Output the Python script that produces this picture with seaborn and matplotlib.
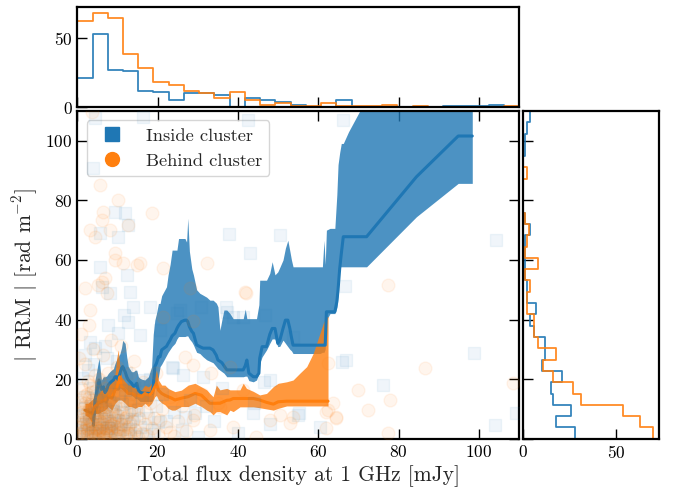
import numpy as np
import pandas as pd
import matplotlib
matplotlib.use("Agg")
import matplotlib.pyplot as plt
import seaborn as sns
from matplotlib.lines import Line2D

BLUE = "#1f77b4"
ORANGE = "#ff7f0e"

# ---------------------------------------------------------------------------
# Individual sources: (flux density at 1 GHz [mJy], |RRM| [rad m^-2])
# ---------------------------------------------------------------------------
inside_points = [
    (4.4, 107.6), (16.3, 108.0), (42.5, 107.0), (66.2, 107.0), (3.9, 90.8),
    (9.4, 76.0), (11.9, 75.7), (12.6, 71.6), (5.6, 69.0), (10.1, 67.7),
    (37.8, 68.7), (50.4, 68.4), (43.1, 62.2), (104.2, 66.6), (5.6, 57.6),
    (12.4, 54.9), (6.1, 50.9), (8.1, 48.9), (13.1, 49.2), (66.6, 51.2),
    (13.9, 44.3), (18.1, 44.3), (11.7, 41.5), (7.7, 38.2), (12.7, 39.3),
    (15.6, 34.8), (10.2, 35.4), (3.2, 32.6), (4.4, 30.3), (7.3, 27.0),
    (2.7, 23.1), (1.1, 20.3), (24.7, 42.1), (37.2, 42.6), (38.8, 40.9),
    (41.2, 40.9), (46.7, 41.5), (37.0, 44.1), (30.9, 44.1), (25.5, 43.2),
    (20.6, 36.5), (53.7, 34.2), (23.5, 24.2), (23.9, 23.6), (26.4, 21.4),
    (31.2, 20.8), (46.4, 19.1), (47.9, 19.7), (16.4, 19.7), (11.9, 16.3),
    (65.8, 25.8), (67.0, 26.4), (76.1, 18.0), (98.8, 28.9), (55.2, 8.5),
    (55.0, 8.0), (60.4, 4.0), (43.8, 8.5), (103.9, 4.6), (109.3, 8.5),
    (26.8, 7.4), (29.3, 8.5), (20.1, 5.7), (7.7, 3.5), (4.4, 3.5),
    (1.0, 3.0), (1.5, 8.0), (2.0, 14.0), (2.5, 1.0), (3.0, 6.0),
    (3.5, 11.0), (4.0, 17.0), (4.5, 2.5), (5.0, 8.5), (5.5, 4.0),
    (6.0, 13.0), (6.5, 1.5), (7.0, 10.0), (7.5, 6.0), (8.0, 19.0),
    (8.5, 3.0), (9.0, 12.0), (9.5, 7.5), (10.0, 1.0), (10.5, 15.0),
    (11.0, 5.0), (11.5, 9.0), (12.0, 22.0), (12.5, 2.0), (13.0, 12.5),
    (13.5, 6.5), (14.0, 17.0), (14.5, 0.8), (15.0, 9.5), (15.5, 4.0),
    (16.0, 14.0), (17.0, 1.5), (17.5, 7.0), (18.0, 20.0), (19.0, 3.0),
    (19.5, 11.0), (21.0, 15.0), (22.0, 6.0), (24.0, 9.0), (26.0, 3.0),
    (28.0, 13.0), (30.0, 0.5), (32.0, 11.0), (34.0, 6.0), (36.0, 17.0),
    (40.0, 2.0), (44.0, 12.0), (48.0, 5.0), (2.2, 5.0), (3.8, 2.0),
    (5.8, 6.5), (7.8, 3.5), (4.2, 25.0), (6.8, 31.0), (1.8, 28.0),
    (9.8, 26.0),
    (0.8, 1.5), (1.2, 5.5), (1.9, 10.2), (2.4, 3.6), (2.9, 8.4),
    (3.3, 1.2), (3.6, 5.0), (4.1, 9.0), (4.6, 13.5), (5.2, 1.8),
    (5.6, 10.8), (6.2, 4.8), (6.7, 7.6), (7.2, 2.6), (7.9, 12.4),
    (8.3, 5.2), (8.9, 9.4), (9.3, 2.0), (9.9, 6.2), (10.6, 3.4),
    (11.2, 11.6), (12.2, 6.0), (13.2, 3.2), (14.2, 8.2),
]

behind_points = [
    (3.7, 109.6), (5.6, 85.1), (10.1, 80.0), (6.4, 76.0), (18.6, 75.7),
    (6.1, 73.3), (12.6, 71.6), (3.2, 70.0), (4.4, 67.7), (8.1, 70.0),
    (9.4, 62.3), (9.4, 59.9), (11.4, 58.9), (14.8, 58.3), (21.3, 57.2),
    (32.3, 58.9), (1.9, 50.5), (6.1, 52.5), (6.9, 53.9), (15.6, 58.9),
    (41.7, 49.2), (28.0, 50.6), (28.7, 39.6), (26.8, 27.5), (28.9, 24.7),
    (33.4, 21.9), (38.0, 24.2), (62.4, 25.3), (62.0, 9.1), (64.5, 7.0),
    (77.4, 51.6), (86.5, 23.6), (69.9, 16.3), (77.8, 13.0), (72.3, 9.6),
    (63.7, 11.9), (62.4, 9.6), (64.5, 7.4), (62.0, 3.5), (77.4, 1.8),
    (52.9, 5.2), (50.4, 8.0), (108.5, 18.6), (5.2, 51.6), (7.3, 48.8),
    (3.2, 43.2), (42.1, 48.8), (21.4, 40.9), (41.3, 16.3), (47.9, 6.3),
    (53.7, 7.4), (35.5, 10.7), (38.8, 4.0), (44.6, 0.7), (23.1, 2.3),
    (20.6, 6.3), (28.9, 6.3),
    (0.5, 2.0), (1.0, 5.0), (1.2, 9.0), (1.5, 1.0), (1.8, 12.0),
    (2.0, 3.0), (2.2, 7.0), (2.5, 15.0), (2.6, 0.5), (2.8, 10.0),
    (3.0, 4.0), (3.1, 18.0), (3.3, 6.0), (3.5, 1.5), (3.6, 13.0),
    (3.8, 8.0), (4.0, 2.5), (4.1, 11.0), (4.3, 5.0), (4.5, 16.0),
    (4.6, 0.8), (4.8, 7.0), (5.0, 3.5), (5.1, 9.5), (5.3, 20.0),
    (5.5, 1.2), (5.6, 6.0), (5.8, 12.5), (6.0, 4.0), (6.1, 14.0),
    (6.3, 2.0), (6.5, 8.5), (6.7, 0.6), (6.9, 17.0), (7.0, 5.5),
    (7.2, 10.5), (7.4, 3.0), (7.6, 22.0), (7.8, 7.5), (8.0, 1.0),
    (8.2, 13.0), (8.4, 4.5), (8.6, 9.0), (8.8, 2.2), (9.0, 16.0),
    (9.2, 6.5), (9.4, 11.0), (9.6, 0.4), (9.8, 3.8), (10.0, 24.0),
    (10.2, 8.0), (10.4, 1.8), (10.6, 14.5), (10.8, 5.0), (11.0, 10.0),
    (11.3, 2.8), (11.5, 18.0), (11.8, 6.8), (12.0, 0.9), (12.3, 12.0),
    (12.6, 4.0), (12.9, 8.8), (13.2, 1.5), (13.5, 15.0), (13.8, 6.0),
    (14.1, 26.0), (14.4, 3.0), (14.7, 10.0), (15.0, 0.5), (15.3, 7.0),
    (15.6, 13.0), (16.0, 2.0), (16.4, 19.0), (16.8, 5.0), (17.2, 9.0),
    (17.6, 1.0), (18.0, 12.0), (18.5, 3.5), (19.0, 7.0), (19.5, 22.0),
    (20.0, 1.5), (21.0, 10.0), (22.0, 4.0), (23.0, 14.0), (24.0, 0.8),
    (25.0, 6.0), (26.0, 11.0), (27.0, 2.5), (29.0, 8.0), (31.0, 15.0),
    (33.0, 3.0), (35.0, 12.0), (2.0, 25.0), (4.0, 30.0), (1.0, 35.0),
    (6.5, 28.0), (8.5, 33.0), (3.0, 38.0), (11.0, 31.0), (13.0, 22.0),
    (0.8, 17.0), (0.5, 27.0), (2.4, 4.5), (3.9, 1.0), (5.4, 2.8),
    (7.1, 1.9), (1.4, 6.5), (4.7, 12.0), (6.2, 9.8), (9.1, 4.2),
    (2.9, 13.7), (8.3, 16.5),
    (0.3, 0.8), (0.7, 4.0), (1.1, 7.5), (1.3, 2.5), (1.7, 10.5),
    (1.9, 5.5), (2.1, 1.2), (2.3, 8.8), (2.7, 3.2), (2.9, 6.2),
    (3.2, 11.5), (3.4, 2.2), (3.7, 4.8), (3.9, 9.8), (4.2, 0.3),
    (4.4, 7.7), (4.7, 3.4), (4.9, 5.6), (5.2, 1.0), (5.4, 8.2),
    (5.7, 3.0), (5.9, 10.6), (6.2, 5.2), (6.4, 0.9), (6.6, 6.8),
    (6.8, 3.6), (7.1, 8.0), (7.3, 1.4), (7.5, 12.2), (7.7, 4.4),
    (8.1, 6.0), (8.3, 2.6), (8.7, 11.0), (8.9, 5.0), (9.3, 1.6),
    (9.7, 8.4), (10.1, 3.2), (10.5, 6.4), (10.9, 12.8), (11.2, 1.2),
    (11.6, 4.6), (12.1, 7.2), (12.5, 2.0), (13.0, 5.4), (13.4, 9.6),
    (14.0, 1.8), (1.6, 14.5), (2.6, 19.5), (4.4, 21.5), (5.9, 18.2),
    (0.9, 12.4), (3.4, 15.8),
]

# ---------------------------------------------------------------------------
# Running median of |RRM| versus flux density, with its uncertainty band
# ---------------------------------------------------------------------------
inside_flux = [4.0, 4.4, 4.8, 5.4, 6.0, 6.5, 6.9, 7.3, 7.7, 8.1, 8.5, 9.0, 9.4, 9.8,
               10.2, 10.6, 11.0, 11.3, 11.9, 12.3, 12.7, 13.5, 14.0, 14.4, 14.8, 15.2,
               15.6, 16.0, 16.8, 17.7, 18.5, 18.9, 19.3, 19.7, 20.2, 20.6, 21.0, 22.2,
               22.6, 23.1, 23.6, 24.3, 24.8, 25.2, 25.9, 26.8, 27.2, 27.5, 27.9, 28.5,
               28.9, 29.7, 30.5, 31.3, 32.2, 33.0, 33.8, 34.6, 35.0, 35.5, 36.0, 36.5,
               37.2, 38.0, 38.8, 40.5, 41.3, 41.8, 42.2, 42.7, 43.8, 44.6, 45.2, 45.4,
               46.0, 47.1, 47.9, 48.5, 49.2, 49.9, 50.4, 51.2, 51.8, 52.4, 52.9, 53.3,
               53.7, 55.4, 57.1, 59.0, 60.4, 61.0, 61.4, 61.7, 62.0, 62.9, 64.1, 64.6,
               64.9, 65.3, 65.7, 66.2, 67.5, 70.3, 72.0, 84.4, 94.8, 98.3]
inside_med = [4.5, 13.0, 15.2, 19.7, 16.5, 17.4, 15.5, 16.3, 18.0, 18.6, 19.2, 19.7, 20.8, 20.8,
              19.7, 21.9, 23.6, 24.2, 22.5, 20.8, 19.7, 18.6, 17.6, 17.9, 18.6, 16.3,
              15.7, 15.4, 15.2, 15.2, 15.2, 17.5, 24.2, 25.3, 27.5, 27.5, 29.8, 31.0,
              32.0, 33.1, 34.5, 35.4, 37.0, 38.0, 39.3, 39.8, 39.8, 39.3, 37.6, 36.0,
              35.4, 31.5, 30.9, 30.4, 30.4, 30.4, 29.8, 28.0, 26.4, 26.0, 25.5, 24.5,
              23.1, 23.1, 23.1, 23.1, 23.1, 24.5, 26.4, 22.0, 20.8, 20.8, 22.0, 27.0,
              30.9, 30.9, 35.0, 37.0, 37.0, 32.0, 33.0, 37.0, 39.8, 39.8, 37.0, 34.0,
              31.4, 31.4, 31.4, 31.4, 31.4, 31.4, 31.4, 31.4, 42.6, 42.6, 42.6, 46.0,
              50.0, 57.0, 62.0, 67.8, 67.8, 67.8, 67.8, 87.9, 101.6, 101.6]
inside_lo = [2.5, 8.0, 9.0, 12.0, 12.0, 12.5, 12.0, 12.0, 13.2, 14.0, 15.0, 15.5, 16.3, 16.3,
             16.3, 17.0, 17.4, 17.4, 17.0, 16.3, 15.2, 14.6, 14.1, 13.5, 13.5, 13.0,
             12.5, 12.5, 12.5, 12.5, 12.5, 13.5, 17.4, 18.5, 20.8, 24.2, 25.0, 28.0,
             29.0, 30.0, 31.0, 32.0, 33.5, 34.3, 34.3, 34.3, 34.5, 34.5, 33.5, 32.5,
             31.5, 29.0, 28.6, 27.5, 26.5, 26.0, 25.5, 24.2, 23.5, 23.0, 22.5, 22.0,
             20.8, 20.8, 20.8, 20.8, 20.8, 21.0, 21.0, 19.5, 19.1, 19.7, 22.0, 25.3,
             27.5, 29.8, 32.0, 33.5, 33.5, 30.9, 31.0, 33.1, 32.0, 30.9, 30.0, 29.5,
             28.6, 28.6, 28.6, 28.6, 28.6, 29.0, 29.0, 30.0, 39.8, 42.0, 42.0, 44.0,
             48.0, 57.7, 57.7, 57.7, 57.7, 57.7, 57.7, 74.5, 85.7, 85.7]
inside_hi = [11.0, 19.7, 22.5, 27.0, 19.7, 20.8, 20.8, 21.0, 21.9, 22.5, 23.0, 23.5, 25.3, 26.5,
             27.5, 28.5, 30.5, 33.0, 32.0, 27.5, 24.2, 22.5, 22.5, 23.0, 23.0, 20.8,
             20.3, 20.0, 19.7, 20.8, 24.2, 35.0, 39.8, 42.0, 45.4, 45.4, 48.0, 51.0,
             55.0, 58.5, 63.3, 63.3, 63.3, 67.2, 67.2, 67.2, 66.0, 74.0, 62.9, 57.0,
             55.0, 50.0, 48.8, 48.2, 47.5, 46.5, 46.5, 45.5, 44.3, 36.4, 40.0, 43.2,
             43.2, 42.0, 40.3, 40.3, 40.3, 43.5, 40.3, 40.3, 40.3, 40.3, 45.0, 53.2,
             53.2, 53.2, 55.5, 59.4, 55.0, 56.0, 57.5, 60.0, 64.0, 66.6, 63.0, 60.0,
             57.7, 57.7, 57.7, 57.7, 57.7, 57.7, 66.6, 58.5, 70.0, 70.6, 70.6, 82.0,
             92.0, 96.0, 99.1, 99.1, 103.0, 110.0, 120.0, 120.0, 120.0, 120.0]

behind_flux = [1.9, 2.7, 3.6, 4.4, 5.2, 6.1, 6.9, 7.7, 8.6, 9.4, 9.8, 10.2, 10.6, 11.0,
               11.9, 12.7, 13.5, 14.4, 15.2, 16.0, 16.8, 17.7, 18.5, 19.3, 19.7, 20.2,
               21.0, 21.8, 22.6, 23.5, 24.3, 25.9, 27.6, 29.3, 30.9, 32.2, 33.0, 33.8,
               34.6, 35.5, 37.2, 38.0, 38.8, 40.5, 41.3, 42.1, 43.8, 45.4, 47.1, 48.8,
               50.0, 52.1, 53.7, 55.4, 57.1, 58.7, 60.4, 61.2, 62.0, 62.4]
behind_med = [9.6, 9.1, 8.5, 10.8, 11.9, 12.5, 13.0, 14.1, 13.6, 16.3, 17.4, 18.6, 20.8, 17.4,
              16.3, 15.2, 15.2, 14.6, 14.6, 14.1, 15.2, 14.6, 15.2, 17.5, 18.6, 16.3,
              15.2, 14.6, 14.1, 13.6, 13.0, 13.6, 14.1, 15.2, 14.6, 12.9, 11.9, 11.9,
              11.9, 11.9, 12.9, 13.0, 13.5, 13.5, 13.5, 13.5, 13.5, 13.0, 12.2, 11.6,
              12.4, 12.6, 12.6, 12.6, 12.6, 12.6, 12.6, 12.6, 12.6, 12.6]
behind_lo = [7.9, 7.4, 5.7, 8.5, 8.5, 9.1, 9.6, 10.8, 9.6, 11.9, 12.5, 13.0, 13.0, 13.0,
             11.9, 10.8, 10.8, 10.2, 10.8, 10.8, 11.9, 10.8, 11.9, 14.1, 14.5, 13.0,
             12.0, 11.4, 10.2, 9.6, 9.6, 10.8, 10.8, 11.9, 10.8, 9.6, 9.1, 8.0,
             9.1, 9.1, 8.0, 9.6, 9.1, 10.7, 10.7, 10.7, 10.7, 10.4, 10.0, 9.6,
             10.2, 11.0, 11.0, 11.0, 11.0, 11.0, 11.0, 11.0, 11.0, 11.0]
behind_hi = [11.9, 11.9, 13.0, 14.1, 15.2, 16.3, 17.4, 18.6, 19.7, 21.9, 27.0, 29.8, 24.2, 20.8,
             19.1, 18.0, 18.0, 16.9, 16.9, 16.3, 18.0, 17.4, 18.6, 20.8, 23.0, 19.7,
             18.0, 18.0, 16.9, 16.3, 15.8, 16.3, 18.0, 18.6, 17.4, 16.4, 15.2, 14.1,
             18.0, 16.4, 16.9, 16.4, 16.4, 16.4, 18.6, 16.9, 15.9, 14.7, 15.2, 17.5,
             18.6, 19.1, 19.7, 22.0, 24.2, 28.6, 35.4, 38.7, 41.0, 41.0]

# ---------------------------------------------------------------------------
# Marginal histograms (counts per bin, 29 bins over 0-110)
# ---------------------------------------------------------------------------
bin_edges = [float(v) for v in np.linspace(0, 110, 30)]
flux_counts_inside = [21, 53, 27, 26, 12, 11, 5, 10, 10, 9, 0, 7, 5, 4, 2,
                      0, 0, 5, 0, 0, 0, 0, 0, 0, 1, 1, 1, 2, 0]
flux_counts_behind = [62, 68, 64, 38, 28, 18, 16, 12, 10, 7, 11, 5, 2, 3, 1,
                      1, 3, 1, 1, 1, 2, 0, 1, 0, 0, 0, 0, 0, 1]
rrm_counts_inside = [28, 18, 26, 16, 15, 21, 10, 12, 12, 6, 4, 7, 2, 2, 1,
                     1, 1, 1, 4, 1, 0, 0, 0, 0, 0, 1, 1, 2, 4]
rrm_counts_behind = [70, 63, 54, 31, 27, 16, 11, 18, 8, 6, 6, 2, 2, 4, 1,
                     8, 1, 2, 3, 1, 0, 0, 0, 2, 0, 0, 0, 0, 0]

# ---------------------------------------------------------------------------
sns.set_style("ticks")
plt.rcParams.update({
    "font.family": ["cmr10"],
    "mathtext.fontset": "cm",
    "axes.formatter.use_mathtext": True,
    "axes.linewidth": 1.6,
    "axes.edgecolor": "black",
    "xtick.direction": "in",
    "ytick.direction": "in",
    "xtick.major.size": 7,
    "ytick.major.size": 7,
    "xtick.major.width": 1.0,
    "ytick.major.width": 1.0,
    "xtick.labelsize": 12.5,
    "ytick.labelsize": 12.5,
    "xtick.color": "black",
    "ytick.color": "black",
})

fig = plt.figure(figsize=(6.75, 4.95), dpi=100)
ax = fig.add_axes([0.1145, 0.1137, 0.6548, 0.6621])
ax_top = fig.add_axes([0.1145, 0.7832, 0.6548, 0.2033], sharex=ax)
ax_right = fig.add_axes([0.7748, 0.1137, 0.2019, 0.6621], sharey=ax)

df_in = pd.DataFrame(inside_points, columns=["flux", "rrm"])
df_bh = pd.DataFrame(behind_points, columns=["flux", "rrm"])

# Bands and running medians
ax.fill_between(inside_flux, inside_lo, inside_hi, color=BLUE, alpha=0.8,
                linewidth=0, zorder=2)
ax.fill_between(behind_flux, behind_lo, behind_hi, color=ORANGE, alpha=0.8,
                linewidth=0, zorder=3)
sns.lineplot(x=inside_flux, y=inside_med, color=BLUE, linewidth=2.2,
             estimator=None, sort=False, ax=ax, zorder=4)
sns.lineplot(x=behind_flux, y=behind_med, color=ORANGE, linewidth=2.2,
             estimator=None, sort=False, ax=ax, zorder=5)

# Individual sources
sns.scatterplot(data=df_in, x="flux", y="rrm", marker="s", s=75, color=BLUE,
                edgecolor=BLUE, linewidth=1.0, alpha=0.065, ax=ax, legend=False,
                zorder=6)
sns.scatterplot(data=df_bh, x="flux", y="rrm", marker="o", s=85, color=ORANGE,
                edgecolor=ORANGE, linewidth=1.0, alpha=0.075, ax=ax, legend=False,
                zorder=6)

# Marginal histograms
centers = [0.5 * (a + b) for a, b in zip(bin_edges[:-1], bin_edges[1:])]
for counts, col in [(flux_counts_inside, BLUE), (flux_counts_behind, ORANGE)]:
    sns.histplot(x=centers, weights=counts, bins=bin_edges, element="step",
                 fill=False, color=col, linewidth=1.3, alpha=0.9, ax=ax_top)
for counts, col in [(rrm_counts_inside, BLUE), (rrm_counts_behind, ORANGE)]:
    sns.histplot(y=centers, weights=counts, bins=bin_edges, element="step",
                 fill=False, color=col, linewidth=1.3, alpha=0.9, ax=ax_right)

# Axes limits, ticks and labels
ax.set_xlim(0, 110)
ax.set_ylim(0, 110)
ax.set_xticks([0, 20, 40, 60, 80, 100])
ax.set_yticks([0, 20, 40, 60, 80, 100])
ax.tick_params(top=True, right=True)
ax.set_xlabel("Total flux density at 1 GHz [mJy]", fontsize=15.5)
ax.set_ylabel(r"$|$ RRM $|$ [rad m$^{-2}$]", fontsize=15.5)

ax_top.set_ylim(0, 72.3)
ax_top.set_yticks([0, 50])
ax_top.tick_params(labelbottom=False, top=False, right=False)
ax_top.set_xlabel("")
ax_top.set_ylabel("")

ax_right.set_xlim(0, 73.4)
ax_right.set_xticks([0, 50])
ax_right.tick_params(labelleft=False, top=False, right=False)
ax_right.set_xlabel("")
ax_right.set_ylabel("")

for a in (ax, ax_top, ax_right):
    for sp in a.spines.values():
        sp.set_visible(True)
        sp.set_linewidth(1.6)
        sp.set_color("black")

handles = [
    Line2D([], [], marker="s", color=BLUE, linestyle="None", markersize=9.5,
           label="Inside cluster"),
    Line2D([], [], marker="o", color=ORANGE, linestyle="None", markersize=10,
           label="Behind cluster"),
]
ax.legend(handles=handles, loc="upper left", fontsize=13.3, frameon=True)

fig.savefig("out.png", dpi=100)
